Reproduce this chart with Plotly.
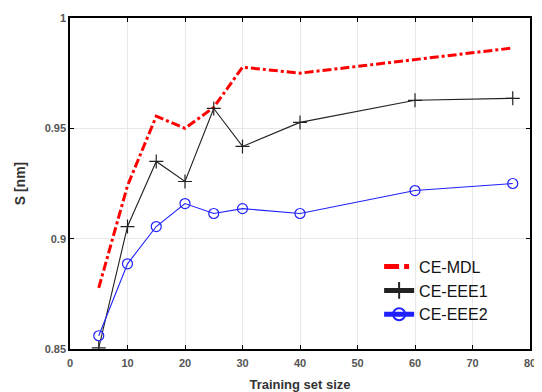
import plotly.graph_objects as go

x_vals = [5, 10, 15, 20, 25, 30, 40, 60, 77]
ce_mdl = [0.8777, 0.9240, 0.9555, 0.9500, 0.9595, 0.9777, 0.9750, 0.9810, 0.9864]
ce_eee1 = [0.8505, 0.9055, 0.9350, 0.9259, 0.9590, 0.9418, 0.9527, 0.9627, 0.9636]
ce_eee2 = [0.8560, 0.8886, 0.9055, 0.9159, 0.9114, 0.9136, 0.9114, 0.9218, 0.9250]

x_ticks = [0, 10, 20, 30, 40, 50, 60, 70, 80]
y_ticks = [0.85, 0.9, 0.95, 1.0]
y_ticklabels = ["0.85", "0.9", "0.95", "1"]

fig = go.Figure()
fig.add_trace(go.Scatter(x=x_vals, y=ce_mdl, mode="lines", name="CE-MDL",
                         line=dict(color="red", width=3, dash="dashdot")))
fig.add_trace(go.Scatter(x=x_vals, y=ce_eee1, mode="lines+markers", name="CE-EEE1",
                         line=dict(color="#222222", width=1.1),
                         marker=dict(symbol="cross-thin", size=10,
                                     line=dict(color="#222222", width=1.2))))
fig.add_trace(go.Scatter(x=x_vals, y=ce_eee2, mode="lines+markers", name="CE-EEE2",
                         line=dict(color="#2020ff", width=1.1),
                         marker=dict(symbol="circle-open", size=10,
                                     line=dict(color="#2020ff", width=1.2))))

axis_common = dict(showline=True, linecolor="black", linewidth=1.5, mirror="ticks",
                   ticks="inside", ticklen=4, tickcolor="black",
                   showgrid=True, gridcolor="#e8e8e8", gridwidth=1, zeroline=False,
                   automargin=False,
                   tickfont=dict(family="Arial", size=11, color="#555555", weight="bold"))

fig.update_xaxes(range=[0, 80], tickvals=x_ticks, ticklabelstandoff=3,
                 title=dict(text="<b>Training set size</b>", font=dict(family="Arial", size=13, color="#333333"), standoff=12),
                 **axis_common)
fig.update_yaxes(range=[0.85, 1.0], tickvals=y_ticks, ticktext=y_ticklabels,
                 title=dict(text="<b>S [nm]</b>", font=dict(family="Arial", size=14, color="#333333"), standoff=16),
                 **axis_common)

fig.update_layout(width=542, height=392, margin=dict(l=62, r=20, t=10, b=51),
                  plot_bgcolor="white", paper_bgcolor="white",
                  legend=dict(x=0.672, y=0.30, xanchor="left", yanchor="top",
                              bgcolor="rgba(255,255,255,0)", borderwidth=0,
                              font=dict(family="Arial", size=16, color="#111111"),
                              tracegroupgap=0, itemsizing="constant"),
                  showlegend=True)

fig.write_html("out.html")
